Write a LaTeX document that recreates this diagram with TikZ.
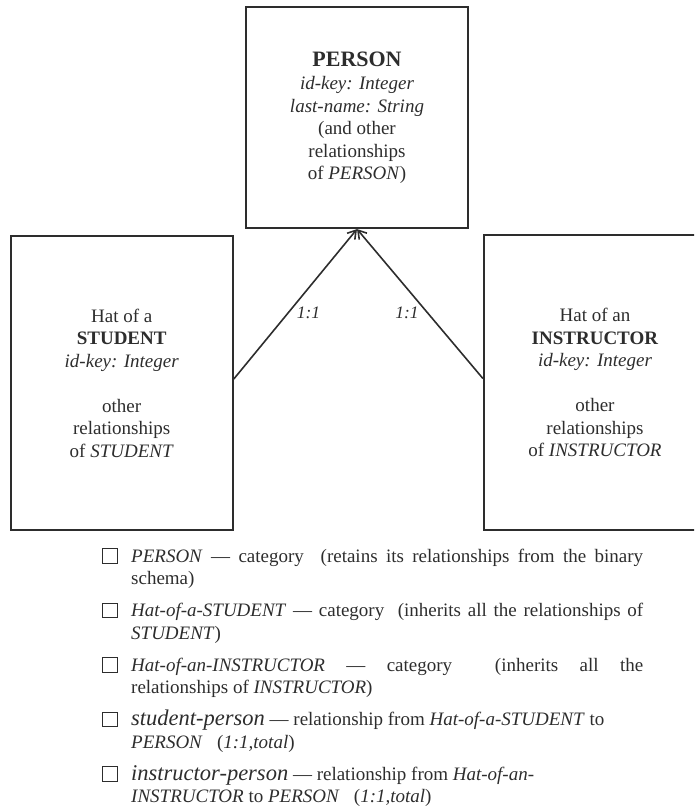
\documentclass[tikz,border=0pt]{standalone}
\usepackage{fontspec}
\setmainfont{Liberation Serif}
\usetikzlibrary{arrows.meta}
\definecolor{ink}{RGB}{45,45,45}
% two stacked lines, reference point on the first baseline
\newcommand{\twolines}[2]{\vtop{\hbox{#1}\hbox{#2}}}
% a line spread to the full measure of the list
\newcommand{\fullline}[1]{\hbox to 512pt{#1}}
\newcommand{\bigit}[1]{{\fontsize{22.5}{22.5}\selectfont\itshape #1}}
\begin{document}
\begin{tikzpicture}[x=1pt,y=-1pt,
  every node/.style={text=ink},
  entity/.style={draw=ink, line width=2.2pt, minimum width=222pt, inner sep=0pt,
    align=center, font=\fontsize{19}{22.5}\selectfont},
  link/.style={draw=ink, line width=1.6pt, -{Straight Barb[length=8pt,width=10pt]}},
  card/.style={font=\itshape\fontsize{17.5}{20}\selectfont, inner sep=0pt},
  tick/.style={draw=ink, line width=1pt, minimum size=14.5pt, inner sep=0pt},
  entry/.style={anchor=base west, inner sep=0pt, font=\fontsize{19}{22.5}\selectfont}
]
\clip (0,0) rectangle (694,808);

% entities
\node[entity, minimum height=221pt] (person) at (357,117.5)
  {{\fontsize{22}{25}\selectfont\bfseries PERSON}\\[1pt]
   \textit{id-key: Integer}\\ \textit{last-name: String}\\
   (and other\\ relationships\\ of \textit{PERSON})};
\node[entity, minimum height=294pt] (student) at (121.7,383)
  {Hat of a\\ \textbf{STUDENT}\\ \textit{id-key: Integer}\\[22.5pt]
   other\\ relationships\\ of \textit{STUDENT}};
\node[entity, minimum height=295pt] (instructor) at (595,382.5)
  {Hat of an\\ \textbf{INSTRUCTOR}\\ \textit{id-key: Integer}\\[22.5pt]
   other\\ relationships\\ of \textit{INSTRUCTOR}};

% relationships
\draw[link] ([yshift=4pt]student.east) --
  node[card, pos=0.44, anchor=west, xshift=8pt] (c11a) {1:1} (person.south);
\draw[link] ([yshift=4pt]instructor.west) --
  node[card, pos=0.44, anchor=east, xshift=-8pt] (c11b) {1:1} (person.south);

% legend
\node[tick] (b1) at (110,556) {};
\node[entry] (t1) at (131,562) {\twolines
  {\fullline{\textit{PERSON} — category\ \ (retains its relationships from the binary}}
  {schema)}};
\node[tick] (b2) at (110,610.5) {};
\node[entry] (t2) at (131,616.5) {\twolines
  {\fullline{\textit{Hat-of-a-STUDENT} — category\ \ (inherits all the relationships of}}
  {\textit{STUDENT})}};
\node[tick] (b3) at (110,665) {};
\node[entry] (t3) at (131,671) {\twolines
  {\fullline{\textit{Hat-of-an-INSTRUCTOR} — category\ \ (inherits all the}}
  {relationships of \textit{INSTRUCTOR})}};
\node[tick] (b4) at (110,719.5) {};
\node[entry] (t4) at (131,725.5) {\twolines
  {\bigit{student-person} — relationship from \textit{Hat-of-a-STUDENT} to}
  {\textit{PERSON}\ \ \ (\textit{1:1,total})}};
\node[tick] (b5) at (110,774) {};
\node[entry] (t5) at (131,780) {\twolines
  {\bigit{instructor-person} — relationship from \textit{Hat-of-an-}}
  {\textit{INSTRUCTOR} to \textit{PERSON}\ \ \ (\textit{1:1,total})}};
\end{tikzpicture}
\end{document}
